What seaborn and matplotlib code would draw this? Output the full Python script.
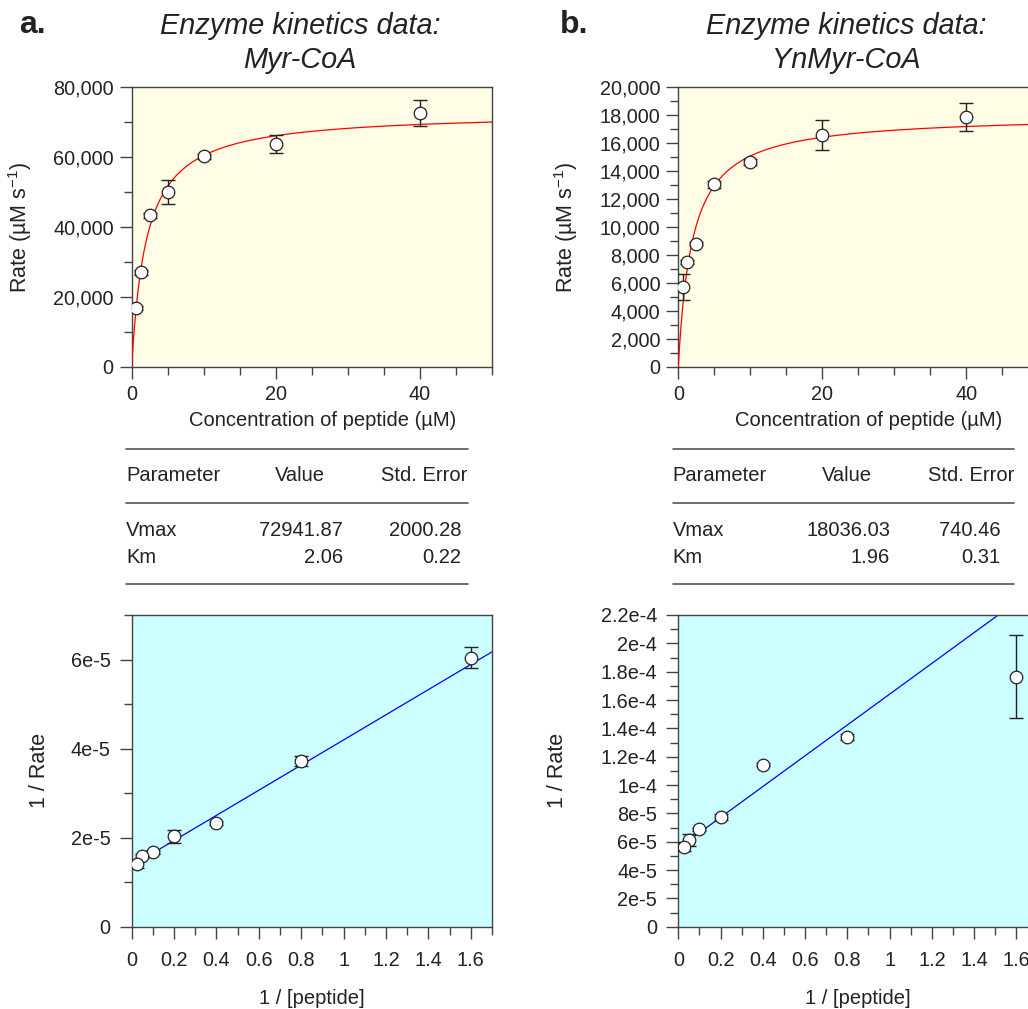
import numpy as np
import matplotlib
matplotlib.use("Agg")
import matplotlib.pyplot as plt
from matplotlib.ticker import MultipleLocator, FuncFormatter
from matplotlib.lines import Line2D
import seaborn as sns

# substrate concentration (uM) and its reciprocal
conc = [0.625, 1.25, 2.5, 5, 10, 20, 40]
inv_conc = [1.6, 0.8, 0.4, 0.2, 0.1, 0.05, 0.025]

# Myr-CoA
myr_rate = [16700, 27000, 43400, 50000, 60200, 63800, 72700]
myr_rate_err = [600, 800, 700, 3500, 800, 2600, 3700]
myr_inv = [6.04e-5, 3.72e-5, 2.33e-5, 2.03e-5, 1.68e-5, 1.59e-5, 1.40e-5]
myr_inv_err = [2.4e-6, 1.1e-6, 0.5e-6, 1.4e-6, 0.4e-6, 0.5e-6, 0.8e-6]
myr_vmax, myr_vmax_err = 72941.87, 2000.28
myr_km, myr_km_err = 2.06, 0.22

# YnMyr-CoA
yn_rate = [5700, 7520, 8800, 13060, 14640, 16590, 17860]
yn_rate_err = [950, 150, 100, 250, 200, 1060, 1010]
yn_inv = [1.765e-4, 1.337e-4, 1.143e-4, 7.74e-5, 6.87e-5, 6.12e-5, 5.65e-5]
yn_inv_err = [2.92e-5, 2e-6, 1e-6, 2e-6, 1e-6, 4.1e-6, 3e-6]
yn_vmax, yn_vmax_err = 18036.03, 740.46
yn_km, yn_km_err = 1.96, 0.31

sns.set_theme(style="ticks")
plt.rcParams["font.family"] = ["Liberation Sans", "DejaVu Sans"]
plt.rcParams["mathtext.fontset"] = "custom"
plt.rcParams["mathtext.rm"] = "Liberation Sans"
plt.rcParams["mathtext.it"] = "Liberation Sans:italic"
plt.rcParams["text.color"] = "#222222"
plt.rcParams["axes.labelcolor"] = "#222222"
plt.rcParams["xtick.color"] = "#444444"
plt.rcParams["ytick.color"] = "#444444"
plt.rcParams["xtick.labelcolor"] = "#222222"
plt.rcParams["ytick.labelcolor"] = "#222222"

W, H = 1028, 1009
fig = plt.figure(figsize=(W / 100, H / 100), dpi=100)
fig.patch.set_facecolor("white")


def fx(x):
    return x / W


def fy(y):
    return 1 - y / H


def add_ax(left, top, right, bottom):
    return fig.add_axes([fx(left), fy(bottom), (right - left) / W, (bottom - top) / H])


def sci_fmt(v, pos):
    if abs(v) < 1e-12:
        return "0"
    m, e = f"{v:.1e}".split("e")
    m = m.rstrip("0").rstrip(".")
    return f"{m}e{int(e)}"


def style_ax(ax, bg, xpad, ypad):
    ax.set_facecolor(bg)
    for s in ax.spines.values():
        s.set_color("#444444")
        s.set_linewidth(1.0)
    ax.tick_params(which="major", direction="out", length=8.5, width=1.0, labelsize=14.3, pad=xpad, axis="x")
    ax.tick_params(which="minor", direction="out", length=5.5, width=1.0, axis="x")
    ax.tick_params(which="major", direction="out", length=8.5, width=1.0, labelsize=14.3, pad=ypad, axis="y")
    ax.tick_params(which="minor", direction="out", length=5.5, width=1.0, axis="y")


def draw_points(ax, x, y, yerr):
    ax.errorbar(x, y, yerr=yerr, fmt="none", ecolor="#222222", elinewidth=1.0,
                capsize=4.7, capthick=1.0, zorder=3)
    sns.scatterplot(x=x, y=y, ax=ax, s=82, color="white", edgecolor="#222222",
                    linewidth=0.9, zorder=4, legend=False)


def mm_panel(ax, rate, err, vmax, km, ymax, ymaj, ymin):
    xs = np.linspace(0, 50, 5000)
    sns.lineplot(x=xs, y=vmax * xs / (km + xs), ax=ax, color="red", linewidth=0.9,
                 estimator=None, sort=False, zorder=2.6)
    draw_points(ax, conc, rate, err)
    ax.set_xlim(0, 50)
    ax.set_ylim(0, ymax)
    ax.xaxis.set_major_locator(MultipleLocator(20))
    ax.xaxis.set_minor_locator(MultipleLocator(5))
    ax.yaxis.set_major_locator(MultipleLocator(ymaj))
    ax.yaxis.set_minor_locator(MultipleLocator(ymin))
    ax.yaxis.set_major_formatter(FuncFormatter(lambda v, p: f"{v:,.0f}"))
    style_ax(ax, "#FFFDE6", 5, 4.5)
    ax.set_xlabel("Concentration of peptide (µM)", fontsize=14.5)
    ax.set_ylabel("Rate (µM s$^{\\mathregular{-1}}$)", fontsize=15.5)
    ax.xaxis.set_label_coords(0.53, -0.16)
    ax.yaxis.set_label_coords(-0.272, 0.5)


def lb_panel(ax, inv, err, vmax, km, ymax, label_x):
    xs = np.linspace(0.025, 1.7, 100)
    sns.lineplot(x=xs, y=1 / vmax + km / vmax * xs, ax=ax, color="blue", linewidth=0.9,
                 estimator=None, sort=False, zorder=2)
    draw_points(ax, inv_conc, inv, err)
    ax.set_xlim(0, 1.7)
    ax.set_ylim(0, ymax)
    ax.xaxis.set_major_locator(MultipleLocator(0.2))
    ax.xaxis.set_minor_locator(MultipleLocator(0.1))
    ax.xaxis.set_major_formatter(FuncFormatter(lambda v, p: f"{v:g}"))
    ax.yaxis.set_major_locator(MultipleLocator(2e-5))
    ax.yaxis.set_minor_locator(MultipleLocator(1e-5))
    ax.yaxis.set_major_formatter(FuncFormatter(sci_fmt))
    style_ax(ax, "#CCFFFF", 9, 6.8)
    ax.set_xlabel("1 / [peptide]", fontsize=14.5)
    ax.set_ylabel("1 / Rate", fontsize=15.5)
    ax.xaxis.set_label_coords(0.5, -0.2)
    ax.yaxis.set_label_coords(label_x, 0.5)


def param_table(x0, x1, val_right, err_right, vmax, vmax_err, km, km_err):
    for yy in (449, 502.7, 583.7):
        fig.add_artist(Line2D([fx(x0), fx(x1)], [fy(yy), fy(yy)], color="#555555", linewidth=1.2))
    kw = dict(fontsize=14.5, va="baseline")
    fig.text(fx(x0), fy(481), "Parameter", ha="left", **kw)
    fig.text(fx(x0 + 174), fy(481), "Value", ha="center", **kw)
    fig.text(fx(x0 + 298.3), fy(481), "Std. Error", ha="center", **kw)
    for name, v, e, yy in (("Vmax", vmax, vmax_err, 536), ("Km", km, km_err, 563)):
        fig.text(fx(x0), fy(yy), name, ha="left", **kw)
        fig.text(fx(val_right), fy(yy), f"{v:.2f}", ha="right", **kw)
        fig.text(fx(err_right), fy(yy), f"{e:.2f}", ha="right", **kw)


# panel a
ax_a = add_ax(131.7, 87.3, 492, 366.7)
mm_panel(ax_a, myr_rate, myr_rate_err, myr_vmax, myr_km, 80000, 20000, 10000)
ax_c = add_ax(131.7, 615, 492, 926.7)
lb_panel(ax_c, myr_inv, myr_inv_err, myr_vmax, myr_km, 7e-5, -0.227)
param_table(126, 468, 342.7, 461, myr_vmax, myr_vmax_err, myr_km, myr_km_err)

# panel b
ax_b = add_ax(678.3, 87.3, 1038.3, 366.7)
mm_panel(ax_b, yn_rate, yn_rate_err, yn_vmax, yn_km, 20000, 2000, 1000)
ax_d = add_ax(678.3, 615, 1037.5, 926.7)
lb_panel(ax_d, yn_inv, yn_inv_err, yn_vmax, yn_km, 2.2e-4, -0.307)
param_table(672.7, 1014, 890, 1000.7, yn_vmax, yn_vmax_err, yn_km, yn_km_err)

# titles and panel letters
for cx, letter_x, sub, letter in ((300, 19, "Myr-CoA", "a."), (846.5, 560, "YnMyr-CoA", "b.")):
    fig.text(fx(cx), fy(34.3), "Enzyme kinetics data:", ha="center", va="baseline",
             fontsize=20.8, style="italic")
    fig.text(fx(cx), fy(68.3), sub, ha="center", va="baseline", fontsize=20.8, style="italic")
    fig.text(fx(letter_x), fy(33.3), letter, ha="left", va="baseline", fontsize=23,
             fontweight="bold")

fig.savefig("out.png", dpi=100)
